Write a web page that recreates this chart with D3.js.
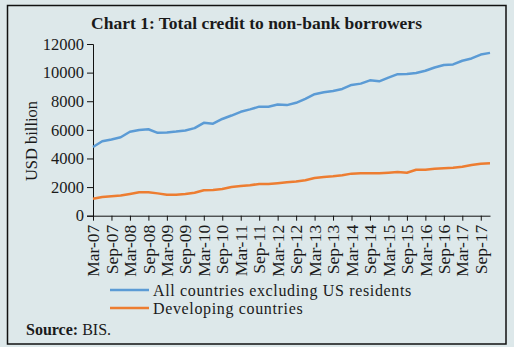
<!DOCTYPE html>
<html>
<head>
<meta charset="utf-8">
<script src="https://cdn.jsdelivr.net/npm/d3@7"></script>
<style>
  html, body { margin: 0; padding: 0; background: #dde8ea; }
  svg { display: block; }
  text { font-family: "Liberation Serif", "Times New Roman", serif; fill: #1a1a1a; }
</style>
</head>
<body>
<svg id="chart" width="514" height="347"></svg>
<script>
// Quarterly observations, Mar-07 to Dec-17
const quarters = [
  "Mar-07","Jun-07","Sep-07","Dec-07","Mar-08","Jun-08","Sep-08","Dec-08",
  "Mar-09","Jun-09","Sep-09","Dec-09","Mar-10","Jun-10","Sep-10","Dec-10",
  "Mar-11","Jun-11","Sep-11","Dec-11","Mar-12","Jun-12","Sep-12","Dec-12",
  "Mar-13","Jun-13","Sep-13","Dec-13","Mar-14","Jun-14","Sep-14","Dec-14",
  "Mar-15","Jun-15","Sep-15","Dec-15","Mar-16","Jun-16","Sep-16","Dec-16",
  "Mar-17","Jun-17","Sep-17","Dec-17"
];

// USD billion
const allCountriesExUS = [
  4800, 5200, 5330, 5480, 5870, 5990, 6040, 5790,
  5820, 5880, 5960, 6120, 6490, 6430, 6760, 7000,
  7260, 7430, 7620, 7620, 7770, 7730, 7890, 8170,
  8490, 8630, 8720, 8860, 9140, 9230, 9460, 9390,
  9650, 9890, 9900, 9970, 10130, 10360, 10530, 10570,
  10830, 10990, 11260, 11380
];

const developingCountries = [
  1180, 1300, 1360, 1410, 1520, 1640, 1640, 1560,
  1470, 1460, 1510, 1600, 1780, 1800, 1870, 2010,
  2080, 2130, 2220, 2220, 2270, 2330, 2390, 2480,
  2640, 2710, 2750, 2820, 2940, 2960, 2960, 2960,
  3000, 3050, 3000, 3210, 3210, 3280, 3310, 3350,
  3420, 3540, 3630, 3660
];

const yTicks = [0, 2000, 4000, 6000, 8000, 10000, 12000];

const seriesNames = ["All countries excluding US residents", "Developing countries"];
const seriesColors = ["#5b9bd5", "#ed7d31"];

const svg = d3.select("#chart");

// outer frame
svg.append("rect")
  .attr("x", 7.5).attr("y", 5.5)
  .attr("width", 498.5).attr("height", 338.5)
  .attr("fill", "none").attr("stroke", "#111").attr("stroke-width", 1.5);

// title
svg.append("text")
  .attr("x", 256.5).attr("y", 29)
  .attr("text-anchor", "middle")
  .attr("font-size", 17.5).attr("font-weight", "bold")
  .text("Chart 1: Total credit to non-bank borrowers");

const x = d3.scaleLinear().domain([0, quarters.length - 1]).range([93, 490]);
const y = d3.scaleLinear().domain([0, 12000]).range([215.7, 44]);

// y axis
const yAxis = svg.append("g")
  .attr("transform", `translate(${x(0)},0)`)
  .call(d3.axisLeft(y).tickValues(yTicks).tickFormat(d3.format("d")).tickSize(6).tickPadding(3));
yAxis.selectAll("text").attr("font-size", 16.5).attr("font-family", "Liberation Serif").attr("fill", "#1a1a1a");
yAxis.selectAll("line,path").attr("stroke", "#111");

// x axis: a tick every second quarter
const tickIdx = d3.range(0, quarters.length, 2);
const xAxis = svg.append("g")
  .attr("transform", `translate(0,${y(0)})`)
  .call(d3.axisBottom(x).tickValues(tickIdx).tickFormat(i => quarters[i]).tickSize(5).tickSizeOuter(0));
xAxis.selectAll("line,path").attr("stroke", "#111");
xAxis.selectAll("text")
  .attr("font-size", 17.5).attr("font-family", "Liberation Serif").attr("fill", "#1a1a1a")
  .attr("text-anchor", "end")
  .attr("dx", "-0.4em").attr("dy", "-0.02em")
  .attr("transform", "rotate(-90)")
  .attr("x", -2).attr("y", 0)
  .style("dominant-baseline", "central");

// y axis title
svg.append("text")
  .attr("transform", `translate(37,141) rotate(-90)`)
  .attr("text-anchor", "middle")
  .attr("font-size", 16.5)
  .text("USD billion");

// lines
const line = d3.line().x((d, i) => x(i)).y(d => y(d));
[allCountriesExUS, developingCountries].forEach((s, k) => {
  svg.append("path")
    .datum(s)
    .attr("d", line)
    .attr("fill", "none")
    .attr("stroke", seriesColors[k])
    .attr("stroke-width", 2.5)
    .attr("stroke-linejoin", "round");
});

// legend
const legend = svg.append("g");
seriesNames.forEach((name, k) => {
  const ly = 290 + k * 18;
  legend.append("line")
    .attr("x1", 110).attr("x2", 149).attr("y1", ly).attr("y2", ly)
    .attr("stroke", seriesColors[k]).attr("stroke-width", 2.5);
  legend.append("text")
    .attr("x", 153).attr("y", ly + 5.5)
    .attr("font-size", 16)
    .attr("letter-spacing", 0.65)
    .text(name);
});

// source note
const src = svg.append("text").attr("x", 26).attr("y", 335).attr("font-size", 16);
src.append("tspan").attr("font-weight", "bold").text("Source:");
src.append("tspan").text(" BIS.");
</script>
</body>
</html>
